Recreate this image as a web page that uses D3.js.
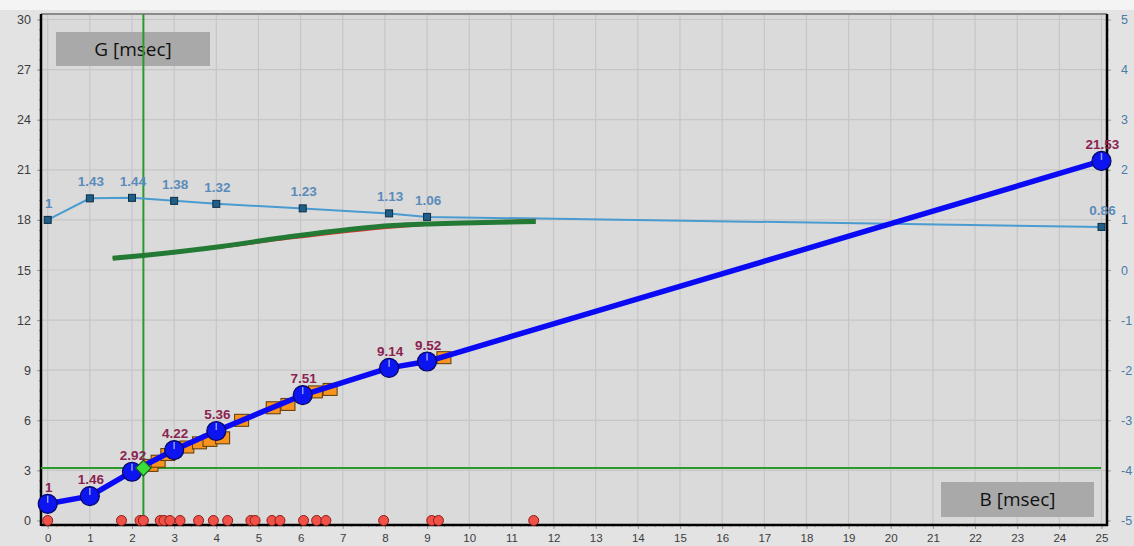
<!DOCTYPE html>
<html>
<head>
<meta charset="utf-8">
<script src="https://cdn.jsdelivr.net/npm/d3@7"></script>
<style>
  html, body { margin: 0; padding: 0; background: #f4f4f4; }
  svg { display: block; font-family: "Liberation Sans", Arial, sans-serif; }
</style>
</head>
<body>
<svg id="chart" width="1134" height="546"></svg>
<script>
// Main series: B time (x) against G time (left axis)
const mainX = [0, 1, 2, 3, 4, 6.05, 8.1, 9, 25];
const mainY = [1, 1.46, 2.92, 4.22, 5.36, 7.51, 9.14, 9.52, 21.53];

// Ratio series on the right axis
const ratioX = [0, 1, 2, 3, 4, 6.05, 8.1, 9, 25];
const ratioY = [1, 1.43, 1.44, 1.38, 1.32, 1.23, 1.13, 1.06, 0.86];

// Staircase blocks along the main series
const stepX = [2.45, 2.62, 2.85, 3.3, 3.6, 3.85, 4.15, 4.6, 5.35, 5.7, 6.35, 6.7, 9.4];
const stepY = [3.3, 3.55, 3.95, 4.4, 4.65, 4.8, 4.95, 6.0, 6.75, 6.95, 7.7, 7.85, 9.75];

// Fitted curves (left axis)
const fitX = [1.54, 2.26, 4.12, 5.65, 8.19, 9.04, 11.58];
const fitGreen = [15.71, 15.87, 16.41, 16.96, 17.66, 17.76, 17.9];
const fitRed = [15.71, 15.85, 16.34, 16.84, 17.54, 17.7, 18.02];

// Event markers on the baseline
const eventX = [0, 1.75, 2.19, 2.27, 2.67, 2.76, 2.9, 3.14, 3.58, 3.93, 4.27, 4.82, 4.92,
                5.32, 5.51, 6.07, 6.38, 6.6, 7.97, 9.11, 9.27, 11.53];

// Cursor position
const cursorX = [2.27];
const cursorY = [3.14];

// Tick labels
const leftTicks = [0, 3, 6, 9, 12, 15, 18, 21, 24, 27, 30];
const rightTicks = [-5, -4, -3, -2, -1, 0, 1, 2, 3, 4, 5];
const bottomTicks = d3.range(0, 26);

const svg = d3.select("#chart");
const plot = { left: 41, right: 1107, top: 14, bottom: 525 };

const x = d3.scaleLinear().domain([0, 25]).range([47.7, 1101.5]);
const yL = d3.scaleLinear().domain([0, 30]).range([520.5, 19.5]);
const yR = d3.scaleLinear().domain([-5, 5]).range([520.5, 19.5]);

// Backgrounds
svg.append("rect").attr("x", 0).attr("y", 10).attr("width", 1134).attr("height", 536).attr("fill", "#e3e3e3");
svg.append("rect").attr("x", plot.left).attr("y", plot.top)
  .attr("width", plot.right - plot.left).attr("height", plot.bottom - plot.top)
  .attr("fill", "#dadada");

// Grid
const grid = svg.append("g").attr("stroke", "#c6c6c6").attr("stroke-width", 1.2);
grid.selectAll("line.v").data(bottomTicks).join("line")
  .attr("x1", d => x(d)).attr("x2", d => x(d))
  .attr("y1", plot.top).attr("y2", plot.bottom);
grid.selectAll("line.h").data(leftTicks.filter(d => d > 0)).join("line")
  .attr("x1", plot.left).attr("x2", plot.right)
  .attr("y1", d => yL(d)).attr("y2", d => yL(d));

// Axes
const plain = d => String(d);
const axL = svg.append("g").attr("transform", `translate(${plot.left},0)`)
  .call(d3.axisLeft(yL).tickValues(leftTicks).tickSize(4).tickPadding(6).tickFormat(plain));
const axLminor = svg.append("g").attr("transform", `translate(${plot.left},0)`)
  .call(d3.axisLeft(yL).tickValues(d3.range(0, 30.01, 0.6)).tickSize(2).tickFormat(""));
const axB = svg.append("g").attr("transform", `translate(0,${plot.bottom})`)
  .call(d3.axisBottom(x).tickValues(bottomTicks).tickSize(4).tickPadding(5).tickFormat(plain));
const axBminor = svg.append("g").attr("transform", `translate(0,${plot.bottom})`)
  .call(d3.axisBottom(x).tickValues(d3.range(0, 25.01, 0.2)).tickSize(2).tickFormat(""));
const axR = svg.append("g").attr("transform", `translate(${plot.right},0)`)
  .call(d3.axisRight(yR).tickValues(rightTicks).tickSize(4).tickPadding(10).tickFormat(plain));
const axRminor = svg.append("g").attr("transform", `translate(${plot.right},0)`)
  .call(d3.axisRight(yR).tickValues(d3.range(-5, 5.01, 0.2)).tickSize(2).tickFormat(""));

[axL, axLminor, axB, axBminor, axR, axRminor].forEach(g => {
  g.select(".domain").remove();
  g.selectAll(".tick line").attr("stroke", "#9a9a9a");
});
axL.selectAll("text").attr("fill", "#3c3c3c").attr("font-size", 12.5);
axB.selectAll("text").attr("fill", "#3c3c3c").attr("font-size", 11.5);
axR.selectAll("text").attr("fill", "#4b7aa6").attr("font-size", 12.5);

// Frame
svg.append("line").attr("x1", plot.left).attr("x2", plot.right).attr("y1", plot.top).attr("y2", plot.top)
  .attr("stroke", "#8a8a8a").attr("stroke-width", 2);
svg.append("line").attr("x1", plot.left).attr("x2", plot.left).attr("y1", plot.top).attr("y2", plot.bottom + 1)
  .attr("stroke", "#000").attr("stroke-width", 2.5);
svg.append("line").attr("x1", plot.left).attr("x2", plot.right + 1).attr("y1", plot.bottom).attr("y2", plot.bottom)
  .attr("stroke", "#000").attr("stroke-width", 2.5);
svg.append("line").attr("x1", plot.right).attr("x2", plot.right).attr("y1", plot.top).attr("y2", plot.bottom + 1)
  .attr("stroke", "#000").attr("stroke-width", 2.5);

// Axis title boxes
function titleBox(bx, by, bw, bh, label) {
  svg.append("rect").attr("x", bx).attr("y", by).attr("width", bw).attr("height", bh).attr("fill", "#a9a9a9");
  svg.append("text").attr("x", bx + bw / 2).attr("y", by + bh / 2 + 6.5)
    .attr("text-anchor", "middle").attr("font-size", 19).attr("fill", "#111")
    .attr("font-family", "'Open Sans', 'Liberation Sans', sans-serif").text(label);
}
titleBox(56, 32, 154, 34, "G [msec]");
titleBox(941, 482, 153, 35, "B [msec]");

// Cursor lines
svg.append("line").attr("x1", x(cursorX[0])).attr("x2", x(cursorX[0]))
  .attr("y1", plot.top).attr("y2", plot.bottom - 4)
  .attr("stroke", "#2a9a2a").attr("stroke-width", 2);
svg.append("line").attr("x1", plot.left).attr("x2", plot.right - 6)
  .attr("y1", yL(cursorY[0])).attr("y2", yL(cursorY[0]))
  .attr("stroke", "#2a9a2a").attr("stroke-width", 2);

// Ratio series
const ratio = ratioX.map((d, i) => [d, ratioY[i]]);
svg.append("path").datum(ratio)
  .attr("d", d3.line().x(d => x(d[0])).y(d => yR(d[1])))
  .attr("fill", "none").attr("stroke", "#4a9bd0").attr("stroke-width", 2);
svg.selectAll("rect.rm").data(ratio).join("rect")
  .attr("x", d => x(d[0]) - 3.5).attr("y", d => yR(d[1]) - 3.5)
  .attr("width", 7).attr("height", 7)
  .attr("fill", "#1f5f86").attr("stroke", "#0c2e48").attr("stroke-width", 1);
svg.selectAll("text.rl").data(ratio).join("text")
  .attr("x", d => x(d[0]) + 1).attr("y", d => yR(d[1]) - 12)
  .attr("text-anchor", "middle").attr("font-size", 13.5).attr("font-weight", "bold")
  .attr("fill", "#5a8bbb").text(d => d[1]);

// Fitted curves
const lineFit = d3.line().curve(d3.curveMonotoneX);
svg.append("path").datum(fitX.map((d, i) => [x(d), yL(fitRed[i])]))
  .attr("d", lineFit).attr("fill", "none").attr("stroke", "#e0302a").attr("stroke-width", 1.6);
svg.append("path").datum(fitX.map((d, i) => [x(d), yL(fitGreen[i])]))
  .attr("d", lineFit).attr("fill", "none").attr("stroke", "#237a35").attr("stroke-width", 5)
  .attr("stroke-linecap", "butt");

// Staircase blocks
svg.selectAll("rect.step").data(stepX.map((d, i) => [d, stepY[i]])).join("rect")
  .attr("x", d => x(d[0]) - 7).attr("y", d => yL(d[1]) - 6)
  .attr("width", 14).attr("height", 12)
  .attr("fill", "#f7931e").attr("stroke", "#5c3a08").attr("stroke-width", 1);

// Main series line
const main = mainX.map((d, i) => [d, mainY[i]]);
svg.append("path").datum(main)
  .attr("d", d3.line().x(d => x(d[0])).y(d => yL(d[1])))
  .attr("fill", "none").attr("stroke", "#0a0af5").attr("stroke-width", 5.5)
  .attr("stroke-linejoin", "round");

// Main series points
const pts = svg.selectAll("g.pt").data(main).join("g")
  .attr("transform", d => `translate(${x(d[0])},${yL(d[1])})`);
pts.append("circle").attr("r", 9.5)
  .attr("fill", "#0c14f0").attr("stroke", "#07075e").attr("stroke-width", 1.2);
pts.append("line").attr("x1", 0).attr("x2", 0).attr("y1", -8).attr("y2", -1)
  .attr("stroke", "#a8b4ff").attr("stroke-width", 1.5).attr("opacity", 0.85);
svg.selectAll("text.ml").data(main).join("text")
  .attr("x", d => x(d[0]) + 1).attr("y", d => yL(d[1]) - 12)
  .attr("text-anchor", "middle").attr("font-size", 13.5).attr("font-weight", "bold")
  .attr("fill", "#8a2350").text(d => d[1]);

// Cursor marker
svg.append("path")
  .attr("d", d3.symbol().type(d3.symbolSquare).size(120)())
  .attr("transform", `translate(${x(cursorX[0])},${yL(cursorY[0])}) rotate(45)`)
  .attr("fill", "#3ade3a").attr("stroke", "#1c5e1c").attr("stroke-width", 1.2);

// Baseline events
svg.selectAll("circle.ev").data(eventX).join("circle")
  .attr("cx", d => x(d)).attr("cy", yL(0))
  .attr("r", 5).attr("fill", "#f0524a").attr("stroke", "#8c1c16").attr("stroke-width", 1);
</script>
</body>
</html>
